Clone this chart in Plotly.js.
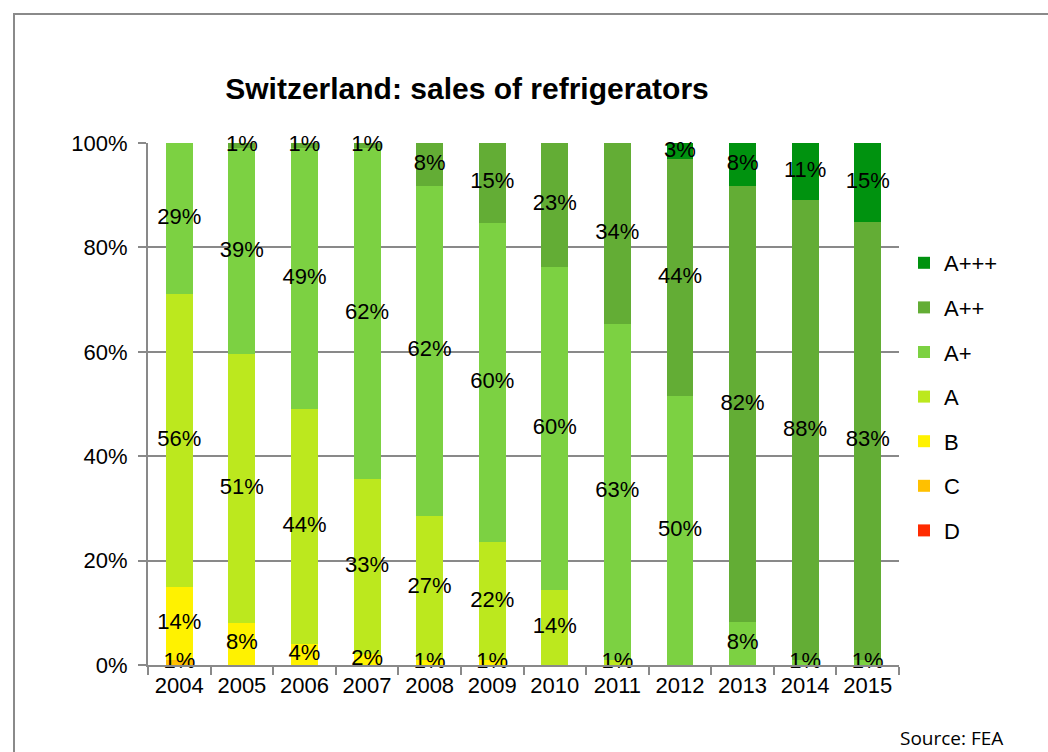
<!DOCTYPE html>
<html>
<head>
<meta charset="utf-8">
<script src="https://cdn.plot.ly/plotly-3.0.1.min.js"></script>
<style>
  html, body { margin: 0; padding: 0; background: #fff; }
  #chart { width: 1048px; height: 752px; }
</style>
</head>
<body>
<div id="chart"></div>
<script>
const years = ['2004','2005','2006','2007','2008','2009','2010','2011','2012','2013','2014','2015'];
const classD    = [0,0,0,0,0,0,0,0,0,0,0,0];
const classC    = [1,0,0,0,0,0,0,0,0,0,0,0];
const classB    = [14,8,4,2,1,1,0,0,0,0,0,0];
const classA    = [56,51,44,33,27,22,14,1,0,0,0,0];
const classA1   = [29,39,49,62,62,60,60,63,50,8,1,1];
const classA2   = [0,1,1,1,8,15,23,34,44,82,88,83];
const classA3   = [0,0,0,0,0,0,0,0,3,8,11,15];

const seriesNames = ['D','C','B','A','A+','A++','A+++'];
const seriesData = [classD, classC, classB, classA, classA1, classA2, classA3];
const seriesColors = ['#FF2B00','#FFC000','#FFF200','#BCE81E','#7CD142','#63AD35','#00920F'];

const FONT = 'Liberation Sans, Arial, sans-serif';

const traces = seriesNames.map((name, i) => ({
  type: 'bar',
  name: name,
  x: years,
  y: seriesData[i],
  marker: {color: seriesColors[i], line: {width: 0}},
  legendgroup: 'g' + i,
  legendrank: 1000 - i,
  hoverinfo: 'x+name+y'
}));

// Data labels centred in each (100%-normalised) stacked segment
const totals = years.map((_, j) => seriesData.reduce((s, arr) => s + arr[j], 0));
const lblX = [], lblY = [], lblT = [];
years.forEach((yr, j) => {
  let cum = 0;
  seriesData.forEach(arr => {
    const v = arr[j];
    if (v > 0) {
      lblX.push(yr);
      lblY.push((cum + v / 2) / totals[j] * 100);
      lblT.push(v + '%');
    }
    cum += v;
  });
});
traces.push({
  type: 'scatter', mode: 'text',
  x: lblX, y: lblY, text: lblT,
  textposition: 'middle center',
  textfont: {family: FONT, size: 22, color: '#000'},
  cliponaxis: false, showlegend: false, hoverinfo: 'skip'
});

const L = 148, T = 143, W = 751, H = 522;
const px2x = p => (p - L) / W;
const px2y = p => (T + H - p) / H;

const layout = {
  width: 1048, height: 752,
  margin: {l: L, r: 1048 - L - W, t: T, b: 752 - T - H, pad: 0},
  paper_bgcolor: '#fff', plot_bgcolor: '#fff',
  barmode: 'stack',
  barnorm: 'percent',
  bargap: 0.57,
  font: {family: FONT, size: 22, color: '#000'},
  title: {
    text: '<b>Switzerland: sales of refrigerators</b>',
    font: {family: FONT, size: 30, color: '#000'},
    xref: 'paper', x: px2x(467), xanchor: 'center',
    yref: 'container', y: 1 - 88/752, yanchor: 'middle'
  },
  xaxis: {
    type: 'category',
    range: [-0.5, years.length - 0.5],
    autorange: false,
    tickson: 'boundaries',
    ticks: 'outside', ticklen: 8, tickwidth: 2, tickcolor: '#898989',
    showline: true, linecolor: '#898989', linewidth: 2,
    showgrid: false, zeroline: false,
    tickfont: {family: FONT, size: 22, color: '#000'},
    fixedrange: true
  },
  yaxis: {
    range: [0, 100],
    autorange: false,
    tickvals: [0,20,40,60,80,100],
    ticktext: ['0%','20%','40%','60%','80%','100%'],
    ticks: 'outside', ticklen: 8, tickwidth: 2, tickcolor: '#898989',
    showline: true, linecolor: '#898989', linewidth: 2,
    showgrid: true, gridcolor: '#898989', gridwidth: 2,
    zeroline: false,
    tickfont: {family: FONT, size: 22, color: '#000'},
    ticklabelstandoff: 6,
    fixedrange: true
  },
  legend: {
    x: px2x(904), xanchor: 'left',
    y: px2y(397), yanchor: 'middle',
    traceorder: 'grouped',
    tracegroupgap: 13,
    font: {family: FONT, size: 22, color: '#000'},
    bgcolor: 'rgba(0,0,0,0)'
  },
  shapes: [{
    type: 'rect', xref: 'paper', yref: 'paper',
    x0: px2x(14), x1: px2x(1200), y0: px2y(900), y1: px2y(14),
    line: {color: '#8a8a8a', width: 2}, fillcolor: 'rgba(0,0,0,0)', layer: 'below'
  }],
  annotations: [{
    text: 'Source: FEA',
    xref: 'paper', yref: 'paper',
    x: px2x(1005), xanchor: 'right',
    y: px2y(738), yanchor: 'middle',
    showarrow: false,
    font: {family: 'Open Sans, Noto Sans, sans-serif', size: 19, color: '#000'}
  }]
};

Plotly.newPlot('chart', traces, layout, {displayModeBar: false, staticPlot: true});
</script>
</body>
</html>
